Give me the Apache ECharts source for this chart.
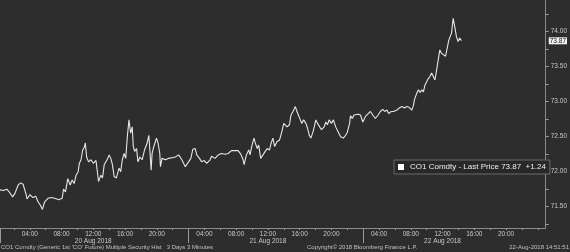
<!DOCTYPE html>
<html><head><meta charset="utf-8">
<script src="https://cdn.jsdelivr.net/npm/echarts@6/dist/echarts.min.js"></script>
<style>html,body{margin:0;padding:0;background:#2d2d2d}#c{width:570px;height:252px}</style>
</head><body><div id="c"></div><script>
// x = compressed trading hours (each day session 02:00-24:00 = 22h; 20 Aug 02:00 = 0)
const hours = [
-1.75,-1.34,-0.91,-0.59,-0.16,0.13,0.54,0.84,1.16,1.50,
1.66,2.00,2.41,2.75,3.04,3.34,3.59,3.88,4.29,4.71,
5.13,5.66,6.09,6.25,6.50,6.79,7.09,7.34,7.59,7.84,
8.09,8.25,8.46,8.66,8.88,9.00,9.16,9.41,9.71,10.00,
10.34,10.54,10.66,10.96,11.16,11.38,11.59,11.79,12.00,12.21,
12.41,12.63,12.91,13.16,13.25,13.46,13.66,13.88,14.09,14.29,
14.50,14.71,14.91,15.04,15.21,15.46,15.63,15.88,16.16,16.46,
16.79,17.00,17.13,17.29,17.41,17.63,17.96,18.16,18.38,18.46,
18.66,19.09,19.50,19.91,20.34,20.75,21.16,21.59,22.00,22.29,
22.54,22.84,23.04,23.38,23.66,23.96,24.29,24.71,24.91,25.34,
25.75,26.16,26.59,27.00,27.41,27.63,28.25,28.59,28.88,29.00,
29.29,29.59,29.75,30.00,30.25,30.41,30.66,30.84,31.09,31.38,
31.66,31.91,32.21,32.41,32.63,32.84,33.16,33.46,33.75,34.00,
34.16,34.41,34.71,34.91,35.16,35.46,35.66,35.84,36.09,36.25,
36.50,36.79,37.00,37.21,37.41,37.63,37.84,38.04,38.25,38.46,
38.75,39.09,39.29,39.50,39.71,40.00,40.25,40.54,40.84,41.16,
41.50,41.79,42.00,42.29,42.41,42.63,42.84,43.04,43.38,43.66,
43.96,44.29,44.63,44.91,45.21,45.54,45.88,46.16,46.46,46.71,
47.00,47.21,47.54,47.84,48.25,48.54,48.88,49.21,49.50,49.79,
50.13,50.34,50.46,50.75,50.96,51.16,51.38,51.59,51.79,52.00,
52.21,52.41,52.63,52.84,53.04,53.25,53.46,53.66,53.88,54.09,
54.38,54.63,54.79,55.00,55.13,55.34,55.54,55.75,55.96,56.16,56.38
];
const prices = [
71.74,71.73,71.75,71.71,71.64,71.69,71.81,71.84,71.82,71.69,
71.61,71.67,71.63,71.65,71.57,71.52,71.46,71.57,71.62,71.63,
71.62,71.60,71.62,71.75,71.71,71.90,71.81,71.88,71.83,71.95,
72.00,72.12,72.17,72.31,72.35,72.41,72.21,72.14,72.17,72.12,
72.16,71.98,71.86,71.95,71.91,72.10,72.12,72.18,72.24,72.19,
72.10,71.93,71.91,71.93,72.05,72.00,72.17,72.26,72.19,72.50,
72.74,72.55,72.64,72.36,72.29,72.33,72.14,72.21,72.17,72.31,
72.41,72.52,72.31,72.02,72.26,72.36,72.48,72.41,72.26,72.07,
72.19,72.17,72.19,72.20,72.21,72.24,72.17,72.07,72.14,72.19,
72.32,72.33,72.24,72.19,72.14,72.16,72.12,72.17,72.22,72.19,
72.24,72.26,72.25,72.26,72.30,72.32,72.30,72.25,72.17,72.10,
72.24,72.31,72.24,72.38,72.48,72.41,72.33,72.38,72.19,72.24,
72.29,72.33,72.31,72.41,72.48,72.36,72.43,72.45,72.57,72.69,
72.71,72.64,72.67,72.81,72.86,72.93,72.86,72.81,72.74,72.69,
72.74,72.69,72.62,72.52,72.48,72.55,72.64,72.74,72.69,72.71,
72.60,72.64,72.71,72.67,72.74,72.69,72.74,72.64,72.57,72.50,
72.48,72.52,72.56,72.69,72.80,72.76,72.81,72.79,72.82,72.81,
72.71,72.79,72.83,72.86,72.81,72.76,72.81,72.86,72.89,72.86,
72.88,72.83,72.86,72.86,72.88,72.91,72.93,72.91,72.93,72.92,
72.88,72.95,73.03,73.12,73.17,73.13,73.17,73.14,73.24,73.26,
73.33,73.36,73.41,73.36,73.31,73.45,73.60,73.74,73.69,73.67,
73.65,73.79,73.88,73.86,73.98,74.19,74.07,73.93,73.86,73.91,73.87
];
const dayNames = ['20 Aug 2018','21 Aug 2018','22 Aug 2018'];
const dayStarts = [0, 22, 44];          // compressed hour of each day's 02:00 open
const hourTickLabels = ['04:00','08:00','12:00','16:00','20:00'];
const hourTickClock = [4, 8, 12, 16, 20];
const daySeparators = [-1.69, 22, 44];
const yLabelValues = [71.5, 72.0, 72.5, 73.0, 73.5, 74.0];
const yMinorValues = [71.25, 71.5, 71.75, 72.0, 72.25, 72.5, 72.75, 73.0, 73.25, 73.5, 73.75, 74.0, 74.25];
const seriesName = 'CO1 Comdty';
const netChange = 1.24;
const xMin = -1.75, xMax = 67, yMin = 71.195, yMax = 74.453;

const lastPrice = prices[prices.length - 1];
const labelMap = {};
const xLabelValues = [];
dayStarts.forEach((d, di) => {
  hourTickClock.forEach((h, hi) => {
    const v = d + h - 2;
    xLabelValues.push(v);
    labelMap[v] = hourTickLabels[hi] + (hi === 2 ? '\n' + dayNames[di] : '');
  });
});
const xMinorTicks = [];
for (let v = 0; v <= 66; v += 2) xMinorTicks.push(v);

const font = 'Liberation Sans';
const chart = echarts.init(document.getElementById('c'));
chart.setOption({
  backgroundColor: '#2d2d2d',
  animation: false,
  grid: { left: 0, right: 20, top: 0, bottom: 24 },
  legend: {
    data: [{ name: seriesName, icon: 'rect' }],
    left: 394, top: 160,
    itemWidth: 6, itemHeight: 6, itemGap: 2,
    padding: [3, 4, 3, 4],
    backgroundColor: '#282828', borderColor: '#6a6a6a', borderWidth: 1,
    formatter: n => n + ' - Last Price ' + lastPrice.toFixed(2) + '  +' + netChange.toFixed(2),
    textStyle: { color: '#eeeeee', fontSize: 8, fontFamily: font, padding: [0, 0, 0, 1] }
  },
  xAxis: [{
    type: 'value', min: xMin, max: xMax, position: 'bottom',
    axisLine: { show: true, onZero: false, lineStyle: { color: '#8a8a8a', width: 1 } },
    axisTick: { show: true, customValues: xMinorTicks, length: 2, lineStyle: { color: '#9a9a9a' } },
    axisLabel: {
      show: true, customValues: xLabelValues, margin: 2,
      formatter: v => labelMap[Math.round(v * 100) / 100] || '',
      color: '#c8c8c8', fontSize: 6.5, lineHeight: 7.5, fontFamily: font
    },
    splitLine: { show: false }
  }, {
    type: 'value', min: xMin, max: xMax, position: 'bottom',
    axisLine: { show: false, onZero: false },
    axisTick: { show: true, customValues: daySeparators, length: 15, lineStyle: { color: '#9a9a9a' } },
    axisLabel: { show: false },
    splitLine: { show: false }
  }],
  yAxis: [{
    type: 'value', min: yMin, max: yMax, position: 'right',
    axisLine: { show: true, onZero: false, lineStyle: { color: '#8a8a8a', width: 1 } },
    axisTick: { show: true, customValues: yMinorValues, length: 3, lineStyle: { color: '#9a9a9a' } },
    axisLabel: {
      customValues: yLabelValues, margin: 5,
      formatter: v => v.toFixed(2), color: '#c8c8c8', fontSize: 6.5, fontFamily: font
    },
    splitLine: { show: false }
  }, {
    type: 'value', min: yMin, max: yMax, position: 'right',
    axisLine: { show: false, onZero: false }, axisTick: { show: false },
    axisLabel: {
      customValues: [lastPrice], margin: 3,
      formatter: v => v.toFixed(2), color: '#111', fontSize: 6.5, fontFamily: font,
      backgroundColor: '#f2f2f2', padding: [0, 1, 0, 1]
    },
    splitLine: { show: false }
  }],
  series: [{
    name: seriesName, type: 'line', xAxisIndex: 0, yAxisIndex: 0,
    data: hours.map((h, i) => [h, prices[i]]),
    showSymbol: false, symbol: 'none',
    lineStyle: { color: '#e6e6e6', width: 1.1 },
    itemStyle: { color: '#ffffff' }
  }],
  graphic: [
    { type: 'text', left: 1, top: 244, style: { text: "CO1 Comdty (Generic 1st 'CO' Future) Multiple Security Hist   3 Days 3 Minutes", fill: '#c0c0c0', fontSize: 6, fontFamily: font } },
    { type: 'text', left: 307, top: 244, style: { text: 'Copyright\u00a9 2018 Bloomberg Finance L.P.', fill: '#c0c0c0', fontSize: 6, fontFamily: font } },
    { type: 'text', right: 1, top: 244, style: { text: '22-Aug-2018 14:51:51', fill: '#c0c0c0', fontSize: 6, fontFamily: font } }
  ]
});
</script></body></html>
